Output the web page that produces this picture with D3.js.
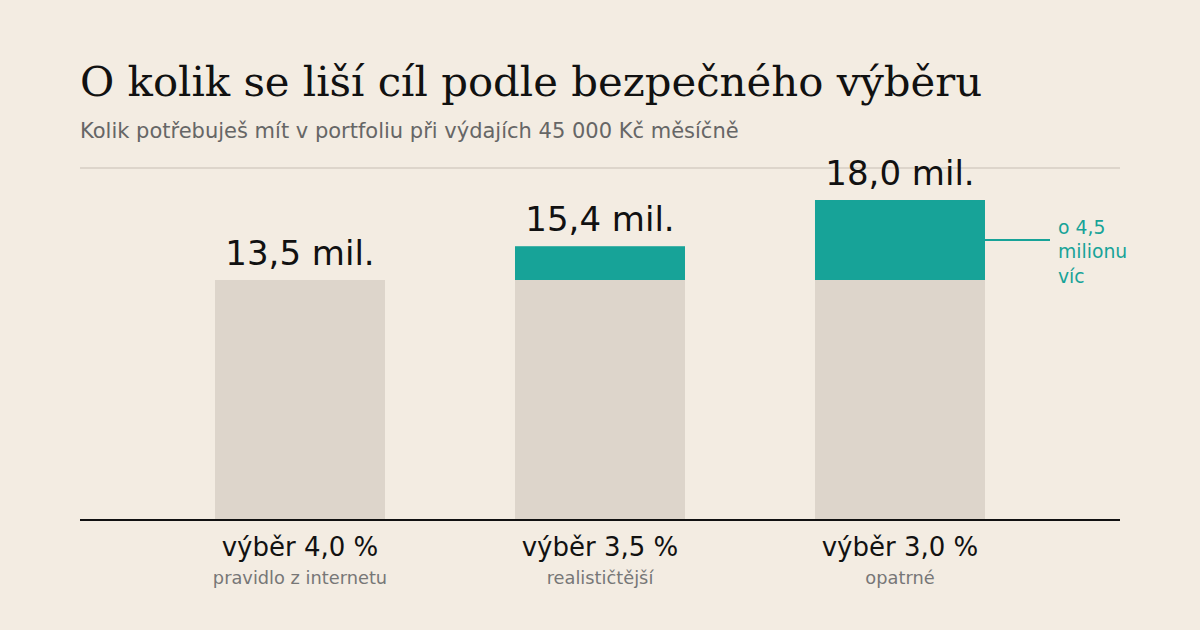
<!DOCTYPE html>
<html>
<head>
<meta charset="utf-8">
<script src="https://cdn.jsdelivr.net/npm/d3@7"></script>
<style>
  html, body { margin: 0; padding: 0; background: #f3ece2; }
  svg { display: block; }
</style>
</head>
<body>
<svg id="chart"></svg>
<script>
const categories = ["výběr 4,0 %", "výběr 3,5 %", "výběr 3,0 %"];
const subLabels = ["pravidlo z internetu", "realističtější", "opatrné"];
const totals = [13.5, 15.4, 18.0];
const baseValue = 13.5;
const valueLabels = ["13,5 mil.", "15,4 mil.", "18,0 mil."];
const noteLines = ["o 4,5", "milionu", "víc"];

const width = 1200, height = 630;
const margin = { left: 80, right: 80, top: 168, bottom: 110 };
const bg = "#f3ece2", baseColor = "#ddd5cb", teal = "#17a398";

const svg = d3.select("#chart").attr("width", width).attr("height", height);
svg.append("rect").attr("width", width).attr("height", height).attr("fill", bg);

const x = d3.scaleBand()
    .domain(categories)
    .range([margin.left, width - margin.right])
    .paddingInner(0.4333)
    .paddingOuter(0.45);

const y = d3.scaleLinear()
    .domain([0, 19.8])
    .range([height - margin.bottom, margin.top]);

// title
svg.append("text")
    .attr("x", 80).attr("y", 96)
    .attr("font-family", "DejaVu Serif")
    .attr("font-size", 41.8)
    .attr("fill", "#111")
    .text("O kolik se liší cíl podle bezpečného výběru");
svg.append("text")
    .attr("x", 80).attr("y", 138)
    .attr("font-family", "DejaVu Sans")
    .attr("font-size", 21)
    .attr("fill", "#666")
    .text("Kolik potřebuješ mít v portfoliu při výdajích 45 000 Kč měsíčně");

// top gridline
svg.append("line")
    .attr("x1", margin.left).attr("x2", width - margin.right)
    .attr("y1", y(19.8)).attr("y2", y(19.8))
    .attr("stroke", baseColor).attr("stroke-width", 2);

const data = categories.map((c, i) => ({ cat: c, total: totals[i], label: valueLabels[i], sub: subLabels[i] }));

// base part
svg.selectAll("rect.base").data(data).enter().append("rect")
    .attr("class", "base")
    .attr("x", d => x(d.cat))
    .attr("width", x.bandwidth())
    .attr("y", d => y(Math.min(d.total, baseValue)))
    .attr("height", d => y(0) - y(Math.min(d.total, baseValue)))
    .attr("fill", baseColor);

// extra part
svg.selectAll("rect.extra").data(data.filter(d => d.total > baseValue)).enter().append("rect")
    .attr("class", "extra")
    .attr("x", d => x(d.cat))
    .attr("width", x.bandwidth())
    .attr("y", d => y(d.total))
    .attr("height", d => y(baseValue) - y(d.total))
    .attr("fill", teal);

// value labels
svg.selectAll("text.val").data(data).enter().append("text")
    .attr("class", "val")
    .attr("x", d => x(d.cat) + x.bandwidth() / 2)
    .attr("y", d => y(d.total) - 15)
    .attr("text-anchor", "middle")
    .attr("font-family", "DejaVu Sans")
    .attr("font-size", 34)
    .attr("fill", "#111")
    .text(d => d.label);

// baseline axis
const axis = svg.append("g")
    .attr("transform", `translate(0,${y(0)})`)
    .call(d3.axisBottom(x).tickSize(0).tickPadding(0));
axis.select(".domain").attr("stroke", "#111").attr("stroke-width", 2)
    .attr("d", `M${margin.left},0H${width - margin.right}`);
axis.selectAll(".tick text")
    .attr("y", 36).attr("dy", null)
    .attr("font-family", "DejaVu Sans")
    .attr("font-size", 26)
    .attr("fill", "#111");
axis.selectAll(".tick").append("text")
    .attr("y", 64)
    .attr("text-anchor", "middle")
    .attr("font-family", "DejaVu Sans")
    .attr("font-size", 17.8)
    .attr("fill", "#777")
    .text((d, i) => subLabels[i]);

// annotation for the largest bar
const last = data[data.length - 1];
const midY = (y(last.total) + y(baseValue)) / 2;
const ax = x(last.cat) + x.bandwidth();
svg.append("line")
    .attr("x1", ax).attr("x2", ax + 65)
    .attr("y1", midY).attr("y2", midY)
    .attr("stroke", teal).attr("stroke-width", 2);
svg.append("text")
    .attr("font-family", "DejaVu Sans")
    .attr("font-size", 18.8)
    .attr("fill", teal)
    .selectAll("tspan").data(noteLines).enter().append("tspan")
    .attr("x", ax + 73)
    .attr("y", (d, i) => midY - 6.5 + i * 24.5)
    .text(d => d);
</script>
</body>
</html>
